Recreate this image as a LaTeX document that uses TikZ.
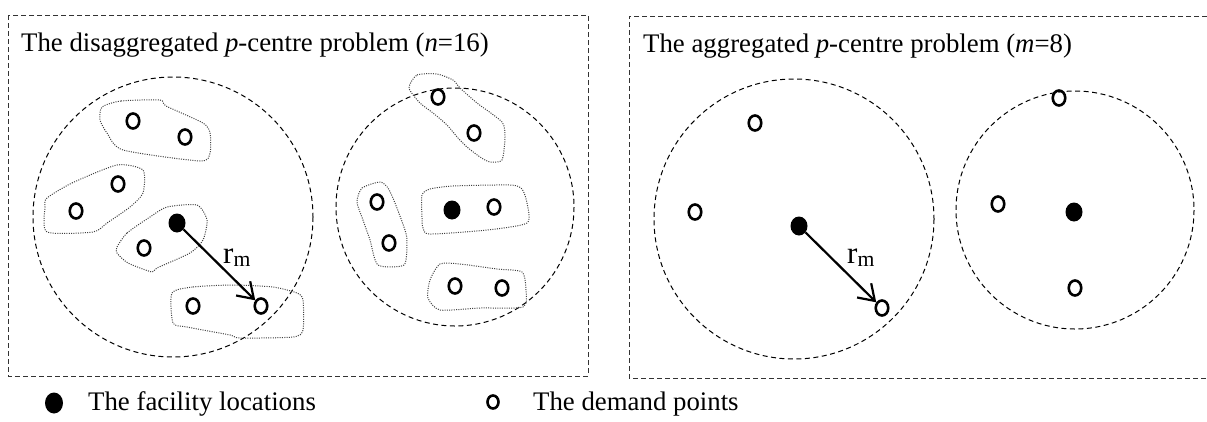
\documentclass[tikz,border=0pt]{standalone}
\usepackage{fontspec}
\setmainfont{Liberation Serif}
\usetikzlibrary{shapes.geometric,arrows.meta}
\begin{document}
\begin{tikzpicture}[x=1pt,y=-1pt,
  demand/.style={ellipse,draw,line width=2.6pt,minimum width=12.5pt,minimum height=15pt,inner sep=0pt},
  facility/.style={ellipse,fill=black,minimum width=17pt,minimum height=19pt,inner sep=0pt},
  panel/.style={draw=black!80,line width=1pt,dash pattern=on 5pt off 3pt},
  rangecirc/.style={draw=black,line width=1pt,dash pattern=on 5pt off 3.5pt},
  cluster/.style={draw=black!75,line width=1pt,dash pattern=on 1pt off 1.3pt},
  radiusarrow/.style={-{Straight Barb[length=15pt,width=20pt,line width=2.2pt]},line width=2.2pt},
  lbl/.style={font=\fontsize{26.8}{30}\selectfont,inner sep=0pt,anchor=base west},
  rlbl/.style={font=\fontsize{31}{34}\selectfont,inner sep=0pt,anchor=base west}
]
\useasboundingbox (0,0) rectangle (1207,421);
\fill[white] (0,0) rectangle (1207,421);

% panels
\draw[panel] (8,15) rectangle (588,376);
\draw[panel] (1207,16) -- (629,16) -- (629,378) -- (1207,378);
\node[lbl] (t1) at (21,51) {The disaggregated \textit{p}-centre problem (\textit{n}=16)};
\node[lbl] (t2) at (643,52) {The aggregated \textit{p}-centre problem (\textit{m}=8)};

% range circles
\draw[rangecirc] (173,217) circle[radius=140];
\draw[rangecirc] (455,207) circle[radius=119];
\draw[rangecirc] (794,219) circle[radius=140];
\draw[rangecirc] (1075,210) circle[radius=119];

% clusters (left panel)
\draw[cluster] plot[smooth cycle,tension=0.4] coordinates {(102,107) (121,101) (160,100) (166,106) (203,123) (210,133) (210,153) (200,161) (123,150) (107,133) (100,120)};
\draw[cluster] plot[smooth cycle,tension=0.4] coordinates {(47,198) (72,183) (117,165) (143,170) (143,193) (130,207) (107,223) (93,232) (47,232) (45,207)};
\draw[cluster] plot[smooth cycle,tension=0.4] coordinates {(117,247) (127,233) (150,217) (167,207) (197,205) (207,220) (203,240) (190,253) (157,268) (152,272) (128,263) (117,253)};
\draw[cluster] plot[smooth cycle,tension=0.4] coordinates {(172,293) (193,287) (233,285) (273,287) (297,293) (303,300) (303,330) (293,337) (240,338) (230,335) (187,327) (173,323)};
\draw[cluster] plot[smooth cycle,tension=0.4] coordinates {(409,88) (417,75) (437,74) (453,80) (460,88) (477,103) (502,122) (505,137) (502,160) (490,162) (480,157) (467,147) (458,138) (447,125) (433,113) (420,103)};
\draw[cluster] plot[smooth cycle,tension=0.4] coordinates {(357,202) (362,188) (380,182) (388,188) (395,203) (405,230) (407,242) (404,265) (378,265) (370,240) (363,220)};
\draw[cluster] plot[smooth cycle,tension=0.4] coordinates {(422,195) (430,189) (453,186) (510,185) (522,189) (527,203) (527,223) (487,230) (430,234) (423,228) (422,217)};
\draw[cluster] plot[smooth cycle,tension=0.4] coordinates {(440,264) (460,264) (497,269) (522,272) (526,290) (523,307) (480,308) (440,310) (428,298) (430,280)};

% points, disaggregated
\node[demand] (d1) at (133,121) {};
\node[demand] (d2) at (185,137) {};
\node[demand] (d3) at (118,184) {};
\node[demand] (d4) at (76,211) {};
\node[facility] (f1) at (177,223) {};
\node[demand] (d5) at (144,248) {};
\node[demand] (d6) at (193,306) {};
\node[demand] (d7) at (261,306) {};
\node[demand] (d8) at (438,97) {};
\node[demand] (d9) at (474,133) {};
\node[demand] (d10) at (377,202) {};
\node[demand] (d11) at (389,243) {};
\node[facility] (f2) at (452,210) {};
\node[demand] (d12) at (494,207) {};
\node[demand] (d13) at (455,286) {};
\node[demand] (d14) at (502,288) {};
\draw[radiusarrow] (f1) -- (d7);
\node[rlbl] (rm1) at (223,263) {r\textsubscript{m}};

% points, aggregated
\node[demand] (e1) at (755,123) {};
\node[demand] (e2) at (695,212) {};
\node[facility] (g1) at (799,226) {};
\node[demand] (e3) at (882,308) {};
\node[demand] (e4) at (1059,98) {};
\node[demand] (e5) at (998,204) {};
\node[facility] (g2) at (1074,212) {};
\node[demand] (e6) at (1075,288) {};
\draw[radiusarrow] (g1) -- (e3);
\node[rlbl] (rm2) at (847,263) {r\textsubscript{m}};

% legend
\node[facility,minimum width=18pt,minimum height=21pt] (lf) at (54,403) {};
\node[lbl] (lft) at (88,410) {The facility locations};
\node[demand,minimum width=11pt,minimum height=13pt,line width=2.6pt] (ld) at (493,402) {};
\node[lbl] (ldt) at (533,410) {The demand points};
\end{tikzpicture}
\end{document}
